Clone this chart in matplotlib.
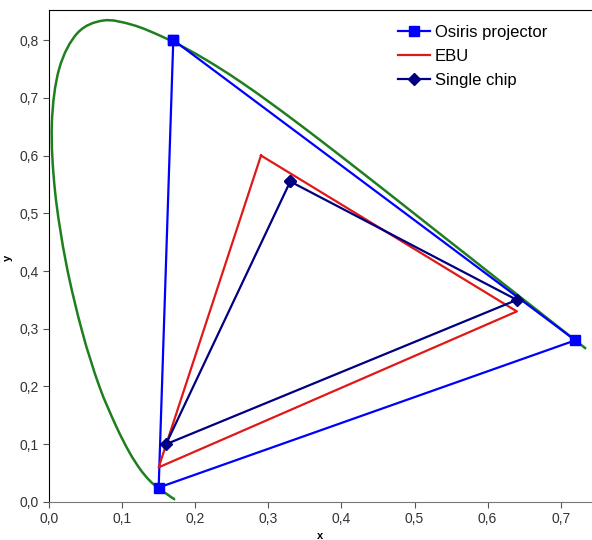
import matplotlib
matplotlib.use("Agg")
import numpy as np
import matplotlib.pyplot as plt
from matplotlib.path import Path
from matplotlib.patches import PathPatch
from matplotlib.ticker import FuncFormatter

plt.rcParams['font.family'] = ['Liberation Sans', 'DejaVu Sans']

# CIE 1931 spectral locus (x, y), 410-700 nm in 5 nm steps
locus_x = [0.1726, 0.1721, 0.1714, 0.1703, 0.1689, 0.1669, 0.1644, 0.1611,
           0.1566, 0.1510, 0.1440, 0.1355, 0.1241, 0.1096, 0.0913, 0.0687,
           0.0454, 0.0235, 0.0082, 0.0039, 0.0139, 0.0389, 0.0743, 0.1142,
           0.1547, 0.1929, 0.2296, 0.2658, 0.3016, 0.3373, 0.3731, 0.4087,
           0.4441, 0.4788, 0.5125, 0.5448, 0.5752, 0.6029, 0.6270, 0.6482,
           0.6658, 0.6801, 0.6915, 0.7006, 0.7079, 0.7140, 0.7190, 0.7230,
           0.7260, 0.7283, 0.7300, 0.7311, 0.7320, 0.7327, 0.7334, 0.7340,
           0.7344, 0.7346, 0.7347]
locus_y = [0.0048, 0.0048, 0.0051, 0.0058, 0.0069, 0.0086, 0.0109, 0.0138,
           0.0177, 0.0227, 0.0297, 0.0399, 0.0578, 0.0868, 0.1327, 0.2007,
           0.2950, 0.4127, 0.5384, 0.6548, 0.7502, 0.8120, 0.8338, 0.8262,
           0.8059, 0.7816, 0.7543, 0.7243, 0.6923, 0.6589, 0.6245, 0.5896,
           0.5547, 0.5202, 0.4866, 0.4544, 0.4242, 0.3965, 0.3725, 0.3514,
           0.3340, 0.3197, 0.3083, 0.2993, 0.2920, 0.2859, 0.2809, 0.2770,
           0.2740, 0.2717, 0.2700, 0.2689, 0.2680, 0.2673, 0.2666, 0.2660,
           0.2656, 0.2654, 0.2653]

# gamut triangles (closed)
osiris_x = [0.17, 0.72, 0.15, 0.17]
osiris_y = [0.80, 0.28, 0.025, 0.80]
ebu_x = [0.29, 0.64, 0.15, 0.29]
ebu_y = [0.60, 0.33, 0.06, 0.60]
chip_x = [0.33, 0.64, 0.16, 0.33]
chip_y = [0.555, 0.35, 0.10, 0.555]


def smooth_path(xs, ys):
    # Excel-like smoothed line: bezier segments through every data point
    p = np.column_stack([xs, ys])
    n = len(p)
    verts = [p[0]]
    codes = [Path.MOVETO]
    for i in range(n - 1):
        p0 = p[max(i - 1, 0)]
        p1, p2 = p[i], p[i + 1]
        p3 = p[min(i + 2, n - 1)]
        verts += [p1 + (p2 - p0) / 6, p2 - (p3 - p1) / 6, p2]
        codes += [Path.CURVE4] * 3
    return Path(verts, codes)


fig = plt.figure(figsize=(5.92, 5.4), dpi=100)
ax = fig.add_axes([0.0828, 0.0704, 0.9172, 0.9111])

ax.add_patch(PathPatch(smooth_path(locus_x, locus_y), fill=False,
                       edgecolor='#1f7f1f', lw=1.8, zorder=2))
ax.plot(osiris_x, osiris_y, color='#0000ff', lw=1.6, marker='s', ms=6.5,
        label='Osiris projector', zorder=3)
ax.plot(ebu_x, ebu_y, color='#e01818', lw=1.6, label='EBU', zorder=3)
ax.plot(chip_x, chip_y, color='#000080', lw=1.6, marker='D', ms=6,
        label='Single chip', zorder=4)

ax.set_xlim(0, 0.7428)
ax.set_ylim(0, 0.852)
ax.set_xticks([0, 0.1, 0.2, 0.3, 0.4, 0.5, 0.6, 0.7])
ax.set_yticks([0, 0.1, 0.2, 0.3, 0.4, 0.5, 0.6, 0.7, 0.8])
fmt = FuncFormatter(lambda v, p: f"{v:.1f}".replace('.', ','))
ax.xaxis.set_major_formatter(fmt)
ax.yaxis.set_major_formatter(fmt)
ax.tick_params(labelsize=10, length=4, width=0.8, colors='#555555',
               labelcolor='#333333')

ax.spines['right'].set_visible(False)
ax.spines['top'].set_color('black')
ax.spines['left'].set_color('black')
ax.spines['bottom'].set_color('#777777')

ax.set_xlabel('x', fontsize=8, fontweight='bold', labelpad=3)
ax.set_ylabel('y', fontsize=8, fontweight='bold')
ax.yaxis.set_label_coords(-0.066, 0.496)

ax.legend(loc='upper right', bbox_to_anchor=(0.945, 1.0), frameon=False,
          fontsize=12, handlelength=1.9, handletextpad=0.3, labelspacing=0.55)

fig.savefig('out.png', dpi=100)
